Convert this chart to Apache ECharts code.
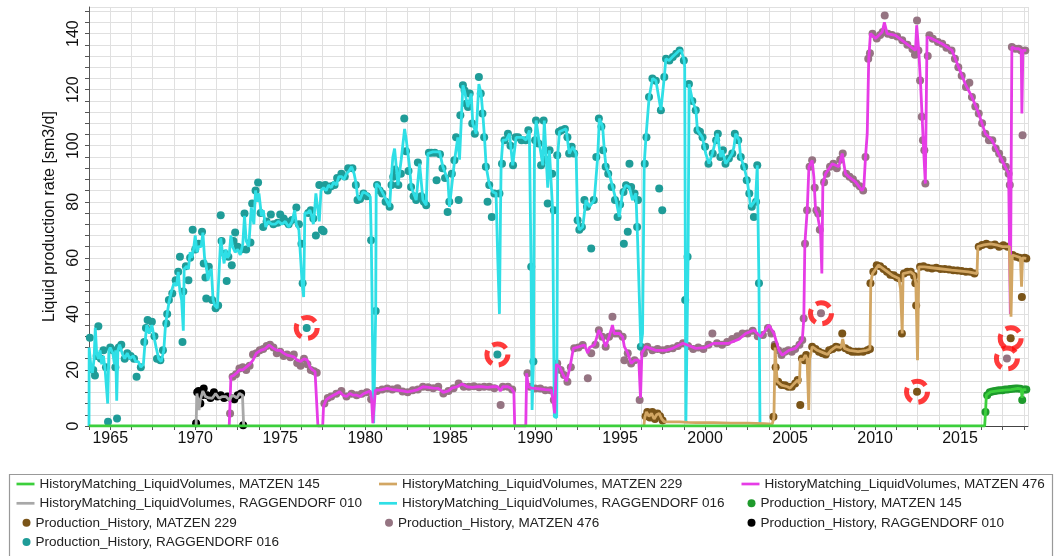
<!DOCTYPE html>
<html>
<head>
<meta charset="utf-8">
<script src="https://cdn.jsdelivr.net/npm/echarts@6/dist/echarts.min.js"></script>
<style>
html,body{margin:0;padding:0;background:#fff;}
#chart{width:1055px;height:556px;}
</style>
</head>
<body>
<div id="chart"></div>
<script>
// ---------- DATA ----------
const xLabelYears = [1965, 1970, 1975, 1980, 1985, 1990, 1995, 2000, 2005, 2010, 2015];
const yLabelValues = [0, 20, 40, 60, 80, 100, 120, 140];

const names = {
  hm145: 'HistoryMatching_LiquidVolumes, MATZEN 145',
  hm229: 'HistoryMatching_LiquidVolumes, MATZEN 229',
  hm476: 'HistoryMatching_LiquidVolumes, MATZEN 476',
  hm010: 'HistoryMatching_LiquidVolumes, RAGGENDORF 010',
  hm016: 'HistoryMatching_LiquidVolumes, RAGGENDORF 016',
  ph145: 'Production_History, MATZEN 145',
  ph229: 'Production_History, MATZEN 229',
  ph476: 'Production_History, MATZEN 476',
  ph010: 'Production_History, RAGGENDORF 010',
  ph016: 'Production_History, RAGGENDORF 016'
};

// HistoryMatching_LiquidVolumes, RAGGENDORF 016  [year, sm3/d]
const hmRagg016 = [
[1963.75,0],[1963.76,28],[1963.85,22],[1963.95,19],[1964.05,24],[1964.12,35],[1964.2,26],[1964.3,24],[1964.4,27],[1964.5,22],[1964.6,25],[1964.7,20],[1964.8,20],[1964.85,8],[1964.92,27],[1965.0,28],[1965.15,26],[1965.25,22],[1965.32,27],[1965.38,9],[1965.45,27],[1965.55,29],[1965.7,26],[1965.85,24],[1966.0,26],[1966.15,24],[1966.35,25],[1966.5,23],[1966.65,23],[1966.8,21],[1966.95,22],[1967.05,30],[1967.15,36],[1967.3,33],[1967.45,36],[1967.6,31],[1967.7,28],[1967.85,24],[1968.0,23],[1968.15,27],[1968.25,36],[1968.35,40],[1968.45,44],[1968.6,48],[1968.75,51],[1968.9,50],[1969.0,55],[1969.1,48],[1969.2,45],[1969.3,34],[1969.35,56],[1969.5,57],[1969.6,56],[1969.7,62],[1969.8,60],[1969.9,63],[1970.0,68],[1970.1,62],[1970.2,64],[1970.35,64],[1970.45,69],[1970.55,60],[1970.65,57],[1970.75,52],[1970.85,55],[1970.95,56],[1971.05,45],[1971.15,43],[1971.3,42],[1971.4,42],[1971.5,67],[1971.6,62],[1971.7,58],[1971.8,63],[1971.9,60],[1972.0,61],[1972.1,68],[1972.2,64],[1972.35,62],[1972.5,63],[1972.65,61],[1972.8,65],[1972.9,75],[1973.0,66],[1973.15,64],[1973.3,78],[1973.45,72],[1973.55,84],[1973.65,80],[1973.75,83],[1973.9,75],[1974.0,77],[1974.15,71],[1974.3,73],[1974.5,72],[1974.7,72],[1974.9,73],[1975.1,72],[1975.3,73],[1975.5,71],[1975.7,73],[1975.85,77],[1975.95,72],[1976.1,70],[1976.2,70],[1976.3,50],[1976.38,46],[1976.45,76],[1976.6,76],[1976.75,77],[1976.85,75],[1976.95,72],[1977.0,75],[1977.1,83],[1977.2,78],[1977.3,73],[1977.4,84],[1977.55,85],[1977.7,84],[1977.85,86],[1978.0,85],[1978.15,87],[1978.3,86],[1978.45,89],[1978.6,89],[1978.75,88],[1978.9,90],[1979.05,91],[1979.2,92.5],[1979.35,90],[1979.45,87],[1979.55,82],
[1979.68,80.6],[1979.87,83.5],[1980.07,83],[1980.3,81.8],[1980.36,66],[1980.4,48],[1980.46,12.8],[1980.5,1],[1980.58,1],[1980.62,41],[1980.65,86.5],[1980.85,85.3],[1981.14,81.8],[1981.44,78.2],[1981.54,88.9],[1981.63,96],[1981.73,99],[1981.93,85.9],[1982.12,95],[1982.32,106],[1982.42,102],[1982.61,92.5],[1982.71,85.3],[1983.0,80.6],[1983.2,93.6],[1983.4,80.6],[1983.59,78.8],[1983.69,97.2],[1983.98,97.8],[1984.38,97.8],[1984.57,92.5],[1984.87,87.7],[1984.96,78.2],[1985.26,94.8],[1985.45,103],[1985.55,95],[1985.75,121.6],[1985.84,119.7],[1986.04,113.8],[1986.24,118.6],[1986.33,107.9],[1986.53,104.3],[1986.69,122],[1986.82,118.6],[1986.92,111.5],[1987.02,103],[1987.12,92.5],[1987.31,86],[1987.51,83.5],[1987.7,83],[1987.8,60],[1987.9,40],[1987.96,75],[1988.0,93.6],[1988.1,102],[1988.29,102],[1988.49,104.3],[1988.68,93],[1988.88,103],[1989.27,103],[1989.47,102],[1989.66,105.5],[1989.76,57],[1989.82,5.7],[1989.9,23],[1989.96,99.6],[1990.06,109],[1990.25,100.8],[1990.45,93],[1990.54,109],[1990.74,85],[1990.84,98.4],[1991.03,77],[1991.13,3.3],[1991.27,3],[1991.33,96.6],[1991.43,105],[1991.62,105.5],[1991.82,106],[1992.01,97.2],[1992.21,99.6],[1992.41,97.2],[1992.5,73.4],[1992.6,70],[1992.8,71],[1992.99,80.6],[1993.19,78.2],[1993.48,80.6],[1993.68,96],[1993.78,109.7],[1993.97,106.9],[1994.07,98.4],[1994.17,92.5],[1994.36,90],[1994.56,85.3],[1994.76,80.6],[1994.95,74.6],[1995.15,83.5],[1995.34,85.9],[1995.54,85.3],[1995.73,80.6],[1995.93,83],[1996.03,66.3],[1996.13,46],[1996.22,28.3],[1996.32,33],[1996.42,93.6],[1996.52,103],[1996.71,117.4],[1996.91,124],[1997.11,123.2],[1997.4,112.7],[1997.6,124.5],[1997.69,131],[1997.89,130.4],[1998.08,131.7],[1998.28,132.8],[1998.48,134],[1998.6,134],[1998.77,130.4],[1998.8,128],[1998.87,1],[1998.95,1],[1999.0,60],[1999.06,122],[1999.26,116],[1999.46,112.7],[1999.55,105.5],[1999.84,103],[2000.04,97.2],[2000.23,93.6],[2000.43,97.2],[2000.62,102],[2000.72,104.3],[2000.92,96],[2001.02,98.4],[2001.21,93.6],[2001.41,95.4],[2001.6,97.2],[2001.7,99.6],[2001.8,104.3],[2002.0,102],[2002.09,96],[2002.29,92.5],[2002.48,87.7],[2002.58,83],[2002.68,78.2],[2002.97,80.6],[2003.07,93],[2003.17,50.9],[2003.23,0]
];

// Production_History, RAGGENDORF 016
const phRagg016 = [
[1963.8,31.5],[1964.0,20],[1964.1,18],[1964.2,25],[1964.3,35.6],[1964.45,24],[1964.6,27],[1964.75,21],[1964.87,1.5],[1965.0,28],[1965.15,27],[1965.3,21],[1965.4,2.7],[1965.5,28],[1965.65,29],[1965.85,24],[1966.0,26],[1966.2,25],[1966.4,24],[1966.55,17.6],[1966.8,21],[1967.0,30],[1967.1,35],[1967.2,37.8],[1967.45,37.2],[1967.6,32],[1967.75,24],[1967.95,23.5],[1968.1,27],[1968.3,36.6],[1968.35,40],[1968.45,45],[1968.65,47.3],[1968.85,52],[1969.0,55],[1969.1,60.4],[1969.25,30],[1969.3,48],[1969.45,57],[1969.6,52],[1969.7,60],[1969.85,70],[1970.0,63],[1970.2,65],[1970.4,69.3],[1970.5,58],[1970.6,53],[1970.65,45.5],[1970.8,56.8],[1971.0,45],[1971.2,42],[1971.35,43],[1971.5,75.2],[1971.55,66],[1971.75,61.5],[1971.85,51.7],[1971.95,60.4],[1972.15,57.4],[1972.25,66],[1972.35,69],[1972.5,64],[1972.7,63],[1972.9,75.8],[1973.0,63],[1973.25,65.5],[1973.35,79.4],[1973.55,84],[1973.7,86.9],[1973.85,76],[1974.0,71],[1974.2,73],[1974.45,75.5],[1974.6,72],[1974.85,72.5],[1975.0,75.5],[1975.2,74],[1975.35,73],[1975.5,72],[1975.7,73.5],[1975.95,78],[1976.1,72],[1976.25,65],[1976.32,50.9],[1976.56,35],[1976.65,76],[1976.8,77],[1976.95,74],[1977.1,68],[1977.3,86],[1977.45,70],[1977.55,69.5],[1977.65,86],[1977.8,84],[1978.0,85.5],[1978.2,86],[1978.35,88.5],[1978.6,90],[1978.8,89],[1979.0,92],[1979.25,92],[1979.45,86],[1979.55,80.6],[1979.7,81],[1979.9,83],[1980.1,82],[1980.35,66.3],[1980.62,41],[1980.7,86],[1980.85,84],[1981.0,83],[1981.2,80],[1981.44,78.2],[1981.55,86],[1981.65,88.9],[1981.75,91.5],[1981.95,86],[1982.1,90],[1982.3,109.7],[1982.4,98],[1982.55,91],[1982.7,85.3],[1982.85,82],[1983.0,80.6],[1983.1,94],[1983.3,82],[1983.45,80],[1983.59,78.8],[1983.75,97.5],[1983.9,97.5],[1984.1,97.5],[1984.2,87.7],[1984.4,97],[1984.55,92],[1984.7,88.5],[1984.85,76.4],[1984.95,80],[1985.1,90],[1985.25,94.8],[1985.35,103],[1985.5,80.6],[1985.6,110.9],[1985.75,121.6],[1985.85,119.7],[1985.95,115],[1986.05,113.8],[1986.15,118.6],[1986.3,107.9],[1986.45,104.3],[1986.69,124.5],[1986.8,118.6],[1986.9,111.5],[1987.0,103],[1987.1,92.5],[1987.2,80],[1987.3,86],[1987.45,74.6],[1987.6,83],[1987.78,25.5],[1987.9,83],[1988.05,93.6],[1988.2,102],[1988.4,104.3],[1988.55,100],[1988.7,93],[1988.85,103],[1989.0,103],[1989.2,102],[1989.45,102],[1989.6,105.5],[1989.77,56.8],[1989.9,23],[1990.0,102],[1990.05,109],[1990.2,100.8],[1990.35,93],[1990.5,109],[1990.6,95],[1990.74,79.4],[1990.85,98.4],[1991.0,90],[1991.1,77],[1991.3,96.6],[1991.4,105],[1991.55,105.5],[1991.75,106],[1991.9,103],[1992.0,97.2],[1992.15,99.6],[1992.3,97.2],[1992.5,73.4],[1992.6,70],[1992.75,71],[1992.9,80.6],[1993.05,78.2],[1993.3,63.3],[1993.45,80.6],[1993.6,96],[1993.75,109.7],[1993.9,106.9],[1994.0,98.4],[1994.15,92.5],[1994.3,90],[1994.5,85.3],[1994.7,80.6],[1994.85,74.6],[1995.0,79],[1995.2,83.5],[1995.22,65],[1995.35,85.9],[1995.45,69.3],[1995.55,93.6],[1995.65,85.3],[1995.85,83],[1996.0,71],[1996.05,80.6],[1996.22,28.3],[1996.45,93.6],[1996.55,103],[1996.7,117.4],[1996.9,124],[1997.1,123.2],[1997.3,84.7],[1997.4,112.7],[1997.48,77],[1997.6,124.5],[1997.7,131],[1997.9,130.4],[1998.1,131.7],[1998.3,132.8],[1998.5,134],[1998.75,130.4],[1998.83,45],[1998.97,60.4],[1999.05,122],[1999.25,116],[1999.45,112.7],[1999.55,105.5],[1999.7,105],[1999.85,103],[2000.0,99.6],[2000.2,93.6],[2000.45,97.2],[2000.65,102],[2000.75,104.3],[2000.9,96],[2001.05,98.4],[2001.2,93.6],[2001.4,95.4],[2001.6,97.2],[2001.75,104.3],[2001.95,102],[2002.1,96],[2002.3,92.5],[2002.45,87.7],[2002.6,83],[2002.75,78.2],[2002.87,74.6],[2003.0,80],[2003.07,93],[2003.17,50.9]
];

// HistoryMatching_LiquidVolumes, MATZEN 476
const hmMatzen476 = [
[1972.0,0],[1972.03,5],[1972.1,17.6],[1972.25,18],[1972.45,19],[1972.6,20],[1972.8,20],[1973.0,21],[1973.2,22],[1973.4,23.5],[1973.6,26],[1973.85,27],[1974.1,27.5],[1974.35,28.9],[1974.6,27.7],[1974.8,27],[1975.0,27],[1975.2,26],[1975.4,25.3],[1975.6,25],[1975.8,24.7],[1976.0,23.5],[1976.2,23],[1976.4,24],[1976.6,23.5],[1976.75,21],[1976.9,20],[1977.05,19.4],[1977.15,18.8],[1977.22,0],[1977.5,0],[1977.55,7],[1977.7,9.3],[1977.85,10],[1978.0,10.5],[1978.3,11.5],[1978.5,12.2],[1978.7,11],[1978.9,10.5],[1979.1,11.6],[1979.3,11],[1979.5,11],[1979.7,10.5],[1979.9,11.5],[1980.1,12],[1980.3,12.5],[1980.38,9.3],[1980.45,1],[1980.55,1],[1980.6,12.8],[1980.8,12.8],[1981.0,13],[1981.3,13.4],[1981.6,13],[1981.9,12.8],[1982.2,12.5],[1982.5,12.2],[1982.8,12.5],[1983.1,13],[1983.4,14],[1983.7,13.8],[1984.0,13.5],[1984.3,13.4],[1984.6,12],[1984.9,12.5],[1985.1,13.5],[1985.4,14],[1985.7,15],[1986.0,14],[1986.3,13.8],[1986.6,14],[1986.9,14],[1987.2,13.8],[1987.5,14],[1987.8,14],[1987.95,12.5],[1988.1,14],[1988.4,14],[1988.6,13.4],[1988.75,12],[1988.8,0],[1989.45,0],[1989.5,18.8],[1989.6,14],[1989.8,13.5],[1990.0,13.4],[1990.3,13.2],[1990.6,13],[1990.95,12.8],[1991.05,9.3],[1991.15,4.5],[1991.25,22],[1991.45,21],[1991.65,18.2],[1991.85,16],[1992.05,21],[1992.25,27.7],[1992.6,28.3],[1992.9,28.9],[1993.1,26],[1993.2,28],[1993.5,29],[1993.75,34.2],[1993.95,31.8],[1994.15,28.3],[1994.35,31.8],[1994.55,36],[1994.65,33],[1994.95,33],[1995.15,31.8],[1995.25,28.3],[1995.45,26],[1995.65,22.3],[1995.85,23.5],[1996.1,23.5],[1996.2,10],[1996.28,26],[1996.5,28.3],[1997.1,27],[1997.7,27],[1998.1,27.7],[1998.7,29.5],[1999.45,27.7],[2000.0,28],[2000.5,29.5],[2001.4,29.5],[2002.0,31],[2002.39,33],[2002.88,34.2],[2003.27,31.8],[2003.76,36],[2004.05,33],[2004.35,27],[2004.54,25.3],[2004.93,27],[2005.32,27.7],[2005.72,30.7],[2005.81,38.4],[2005.87,65],[2006.01,77],[2006.11,92.5],[2006.3,94.8],[2006.4,88.9],[2006.5,77],[2006.6,75.8],[2006.7,72.3],[2006.79,70],[2006.87,54.4],[2006.93,86.5],[2007.09,90],[2007.48,93.6],[2007.87,92.5],[2008.07,97.2],[2008.26,90],[2008.46,88.9],[2008.85,87.1],[2009.24,84],[2009.34,85.3],[2009.44,96],[2009.54,104.3],[2009.63,131],[2009.73,140],[2010.03,138.3],[2010.42,140.6],[2010.55,144],[2010.71,140],[2011.2,139.4],[2011.59,137.6],[2011.98,135.8],[2012.38,134],[2012.45,143],[2012.57,134],[2012.67,123.3],[2012.77,110.3],[2012.86,98.4],[2012.96,86.5],[2013.06,138.8],[2013.16,139.4],[2013.35,138.2],[2013.94,136.4],[2014.53,134],[2014.92,128],[2015.31,122],[2015.7,117.4],[2016.1,111.5],[2016.49,104.3],[2016.88,102],[2017.27,97.2],[2017.66,92.5],[2017.86,90],[2017.96,40],[2018.05,135.2],[2018.25,134.6],[2018.45,134.6],[2018.6,134],[2018.64,111.5],[2018.7,134],[2018.9,134]
];

// Production_History, MATZEN 476
const phMatzen476 = [
[1972.05,4.5],[1972.2,17.6],[1972.4,18.5],[1972.6,20.5],[1972.8,21],[1973.0,20],[1973.2,21.5],[1973.4,25.5],[1973.6,26],[1973.8,27],[1974.0,27.5],[1974.2,28.5],[1974.4,29],[1974.6,28],[1974.8,26],[1975.0,26.5],[1975.2,25],[1975.4,25.5],[1975.6,24.5],[1975.8,25.5],[1976.0,22.5],[1976.2,21.5],[1976.4,24],[1976.6,22],[1976.8,20],[1977.0,19.5],[1977.15,19],[1977.6,8],[1977.8,10],[1978.0,10.5],[1978.3,11.5],[1978.6,12.5],[1978.9,10.5],[1979.2,11.5],[1979.5,11],[1979.8,11.5],[1980.1,12],[1980.35,9.5],[1980.7,12.5],[1981.0,13],[1981.3,13.4],[1981.6,13],[1981.9,13.5],[1982.2,12.3],[1982.5,12],[1982.8,12.8],[1983.1,13],[1983.4,14],[1983.7,13.8],[1984.0,13.5],[1984.3,14],[1984.6,11.6],[1984.9,12.5],[1985.2,13.5],[1985.5,15.2],[1985.8,14],[1986.1,14],[1986.4,14.2],[1986.7,13.8],[1987.0,14],[1987.3,14],[1987.6,13.5],[1987.97,7.5],[1988.1,14],[1988.4,14],[1988.65,13],[1989.55,18.8],[1989.7,14],[1990.0,13.4],[1990.3,13.4],[1990.6,12.8],[1990.9,12.8],[1991.1,9.3],[1991.3,22.3],[1991.5,20],[1991.7,18.2],[1991.9,15.8],[1992.1,21],[1992.3,27.7],[1992.55,28],[1992.8,28.9],[1993.1,17],[1993.3,26],[1993.55,29],[1993.75,34.2],[1993.95,31.8],[1994.15,28.3],[1994.35,31.8],[1994.55,39],[1994.7,33],[1994.9,33],[1995.15,31.8],[1995.25,23.5],[1995.45,26],[1995.65,22.3],[1995.85,23.5],[1996.15,9.3],[1996.4,26],[1996.6,28.3],[1996.9,27],[1997.2,27.5],[1997.5,27],[1997.8,27.5],[1998.1,27.7],[1998.4,28.5],[1998.7,29.5],[1999.0,28.5],[1999.3,27.5],[1999.6,28],[1999.9,27.5],[2000.2,29],[2000.43,33],[2000.7,29.5],[2001.0,29],[2001.3,30],[2001.6,31],[2001.9,32],[2002.2,33],[2002.5,33],[2002.8,34],[2003.1,32],[2003.4,32.5],[2003.7,35],[2003.9,33],[2004.1,29],[2004.3,27],[2004.5,25.3],[2004.7,26.5],[2004.9,27],[2005.1,26.5],[2005.3,27.5],[2005.55,29],[2005.72,30.7],[2005.8,38.4],[2005.88,65],[2006.0,77],[2006.15,92.5],[2006.3,94.8],[2006.45,85],[2006.55,77],[2006.65,75.8],[2006.75,70],[2006.82,40.2],[2007.0,87],[2007.15,90],[2007.35,92.5],[2007.55,93.6],[2007.75,92],[2007.95,95],[2008.1,97.2],[2008.3,90],[2008.5,88.9],[2008.7,88],[2008.9,86.5],[2009.1,85.5],[2009.3,84],[2009.44,96],[2009.6,131],[2009.7,133],[2009.85,140],[2010.1,138.3],[2010.3,139.5],[2010.45,140.6],[2010.57,146.5],[2010.75,140],[2011.0,139.5],[2011.3,139],[2011.6,137.6],[2011.9,136],[2012.2,134.5],[2012.35,132.5],[2012.47,144.7],[2012.55,134],[2012.65,123.3],[2012.75,110.3],[2012.82,102],[2012.9,98.4],[2012.96,86.5],[2013.1,132],[2013.2,139.4],[2013.4,138.2],[2013.7,137],[2013.95,136.4],[2014.2,135],[2014.5,134],[2014.7,131],[2014.9,128],[2015.1,125],[2015.35,121],[2015.55,122.5],[2015.7,117.4],[2015.9,114],[2016.1,111.5],[2016.3,108],[2016.49,104.3],[2016.7,102],[2016.9,102],[2017.1,99],[2017.3,97.2],[2017.5,95],[2017.7,92.5],[2017.86,90],[2017.93,86],[2017.76,24.1],[2018.05,135.2],[2018.25,134.6],[2018.45,134.6],[2018.6,134],[2018.68,103.7],[2018.84,134]
];

// HistoryMatching_LiquidVolumes, MATZEN 229
const hmMatzen229 = [
[1996.4,0],[1996.45,3],[1996.55,5],[1996.7,3.5],[1996.85,4.5],[1997.0,2.5],[1997.15,4],[1997.3,4.5],[1997.45,2.5],[1997.6,1.5],[1998.0,1.5],[1998.5,1.5],[1999.0,1.3],[1999.5,1.2],[2000.5,1.2],[2001.5,1],[2002.5,1],[2003.5,0.8],[2003.95,0.7],[2004.0,0],[2004.05,3],[2004.12,28],[2004.18,21],[2004.25,15.8],[2004.5,14.6],[2004.85,14],[2005.0,13.5],[2005.25,15.2],[2005.45,16.4],[2005.55,15],[2005.6,24],[2005.75,23.5],[2005.9,25.3],[2006.0,24],[2006.1,5.7],[2006.15,23.5],[2006.3,28.3],[2006.6,27],[2007.0,26],[2007.2,25.5],[2007.4,27],[2007.7,28.3],[2008.0,28],[2008.1,31],[2008.2,27.7],[2008.5,27],[2009.0,26.5],[2009.5,27],[2009.7,27.5],[2009.75,50.9],[2009.85,54.4],[2010.2,57.4],[2010.6,55.6],[2011.0,53.8],[2011.4,52.6],[2011.5,49],[2011.6,33],[2011.65,54.4],[2012.1,55],[2012.3,54],[2012.4,50.9],[2012.5,23.5],[2012.58,56.8],[2012.9,56.8],[2013.7,56.2],[2014.5,55.6],[2015.5,55],[2016.0,54.4],[2016.05,64],[2016.4,64.6],[2016.8,65],[2017.2,64.5],[2017.5,64],[2017.9,64],[2018.0,39],[2018.08,61],[2018.4,60.4],[2018.55,60],[2018.62,49.7],[2018.68,60],[2018.9,59.8]
];

// Production_History, MATZEN 229
const phMatzen229 = [
[1996.5,3.5],[1996.6,5],[1996.75,3],[1996.9,5],[1997.05,2.5],[1997.2,4.5],[1997.35,3.5],[1997.5,2],[2004.02,3.3],[2004.1,28.3],[2004.15,21],[2004.3,15.8],[2004.5,14.6],[2004.7,14.5],[2004.9,14],[2005.1,14],[2005.3,15.2],[2005.45,16.4],[2005.6,7.5],[2005.7,24.1],[2005.85,23.5],[2005.95,25.3],[2006.3,28.3],[2006.5,27.5],[2006.7,26.5],[2006.9,26],[2007.1,25.5],[2007.3,27],[2007.5,27.5],[2007.7,28.3],[2007.85,28],[2008.07,33],[2008.25,27.7],[2008.45,27],[2008.65,26.5],[2008.85,26.5],[2009.05,26.5],[2009.3,26.5],[2009.55,27],[2009.7,27.5],[2009.73,50.9],[2009.9,55],[2010.1,57.4],[2010.3,57],[2010.5,56],[2010.7,55],[2010.9,54],[2011.1,53.8],[2011.3,53],[2011.45,52.6],[2011.58,33],[2011.7,54.4],[2011.9,55],[2012.1,55],[2012.3,53.5],[2012.37,50.9],[2012.42,43],[2012.47,12.2],[2012.65,56.8],[2012.85,57],[2013.1,56.5],[2013.35,56.2],[2013.6,56.5],[2013.85,56],[2014.1,56],[2014.35,55.8],[2014.6,55.6],[2014.85,55.5],[2015.1,55.3],[2015.35,55],[2015.6,55],[2015.85,54.4],[2016.1,64],[2016.3,64.6],[2016.55,65],[2016.8,64.5],[2017.05,64.8],[2017.3,64],[2017.55,64.5],[2017.8,64],[2017.98,31.3],[2018.1,61],[2018.3,60.4],[2018.5,60],[2018.64,46],[2018.8,60],[2018.9,59.8]
];

// HistoryMatching_LiquidVolumes, MATZEN 145
const hmMatzen145 = [
[1963.75,0],[2016.45,0],[2016.5,5],[2016.55,11],[2016.8,12.2],[2017.2,12.5],[2017.6,12.8],[2018.0,13],[2018.4,13.4],[2018.6,13.2],[2018.65,10],[2018.7,13],[2018.9,13]
];
// Production_History, MATZEN 145
const phMatzen145 = [
[2016.5,5],[2016.6,11],[2016.75,12],[2016.9,12.3],[2017.05,12.5],[2017.2,12.7],[2017.35,12.8],[2017.5,12.8],[2017.65,13],[2017.8,13],[2017.95,13.2],[2018.1,13.3],[2018.25,13.4],[2018.4,13.4],[2018.55,13.3],[2018.66,9.3],[2018.8,13],[2018.9,13]
];

// HistoryMatching_LiquidVolumes, RAGGENDORF 010
const hmRagg010 = [
[1970.05,0],[1970.1,11.6],[1970.15,12],[1970.22,5.7],[1970.3,9.3],[1970.45,12.5],[1970.6,10.5],[1970.8,10],[1971.0,9.9],[1971.2,11.6],[1971.4,9.9],[1971.6,10.5],[1971.8,10.5],[1972.0,9.3],[1972.2,11],[1972.45,10],[1972.6,11.6],[1972.78,11],[1972.85,0]
];
// Production_History, RAGGENDORF 010
const phRagg010 = [
[1970.05,1],[1970.12,12],[1970.2,12.5],[1970.3,8],[1970.4,11],[1970.5,13.4],[1970.7,11],[1970.9,10],[1971.1,12],[1971.3,10.5],[1971.5,11],[1971.7,10],[1971.9,10.5],[1972.1,10],[1972.3,9.5],[1972.5,11],[1972.7,11.6],[1972.82,0.3]
];

// Highlighted (circled) production points
const circledPoints = [
[1976.56,35],[1987.78,25.5],[2006.82,40.2],[2012.47,12.2],[2017.98,31.3],[2017.76,24.1]
];

// ---------- CHART ----------
const FONT = '"Liberation Sans", Arial, sans-serif';
const chart = echarts.init(document.getElementById('chart'), null, {renderer: 'canvas'});

function lineSeries(name, data, color) {
  return {name, type: 'line', data, symbol: 'none', showSymbol: false, z: 3,
    lineStyle: {color, width: 2.8}, itemStyle: {color}, animation: false, silent: true};
}
function pointSeries(name, data, color) {
  return {name, type: 'scatter', data, symbol: 'circle', symbolSize: 8, z: 2,
    itemStyle: {color, opacity: 1}, animation: false, silent: true};
}

// legend layout: [series key, column, row, kind]
const legendCells = [
  ['hm145', 0, 0, 'line'], ['hm229', 1, 0, 'line'], ['hm476', 2, 0, 'line'],
  ['hm010', 0, 1, 'line'], ['hm016', 1, 1, 'line'], ['ph145', 2, 1, 'dot'],
  ['ph229', 0, 2, 'dot'],  ['ph476', 1, 2, 'dot'],  ['ph010', 2, 2, 'dot'],
  ['ph016', 0, 3, 'dot']
];
const colX = [0, 362.5, 725];
const rowY = [484, 503.3, 522.8, 542];
const LINE_ICON = 'path://M0,0L20,0L20,3L0,3Z';
const legends = legendCells.map(([key, c, r, kind]) => ({
  orient: 'horizontal', padding: 0, selectedMode: false,
  left: colX[c] + (kind === 'line' ? 16.5 : 22.5),
  top: rowY[r] - 7,
  itemWidth: kind === 'line' ? 18 : 8,
  itemHeight: kind === 'line' ? 9 : 8,
  textStyle: {fontFamily: FONT, fontSize: 13.5, color: '#222', lineHeight: 14},
  data: [kind === 'line' ? {name: names[key], icon: LINE_ICON} : {name: names[key], icon: 'circle'}]
}));

chart.setOption({
  animation: false,
  backgroundColor: '#fff',
  grid: {left: 89, right: 27, top: 7, bottom: 130, containLabel: false},
  xAxis: {
    type: 'value', min: 1963.75, max: 2019, interval: 1.25,
    axisLine: {show: true, lineStyle: {color: '#444', width: 1}},
    axisTick: {show: true, length: 4, lineStyle: {color: '#555'}},
    splitLine: {show: true, lineStyle: {color: '#e0e0e0', width: 1}},
    axisLabel: {
      margin: 5, fontFamily: FONT, fontSize: 16, color: '#111', showMaxLabel: false,
      formatter: v => (xLabelYears.some(y => Math.abs(y - v) < 1e-6) ? String(Math.round(v)) : '')
    }
  },
  yAxis: {
    type: 'value', min: 0, max: 149.5, interval: 4,
    name: 'Liquid production rate [sm3/d]', nameLocation: 'middle', nameGap: 31,
    nameTextStyle: {fontFamily: FONT, fontSize: 16, color: '#111'},
    axisLine: {show: true, lineStyle: {color: '#555', width: 1}},
    axisTick: {show: true, length: 4, lineStyle: {color: '#555'}},
    splitLine: {show: true, lineStyle: {color: '#e0e0e0', width: 1}},
    axisLabel: {
      rotate: 90, margin: 7, fontFamily: FONT, fontSize: 16, color: '#111', showMaxLabel: false,
      formatter: v => (yLabelValues.some(y => Math.abs(y - v) < 1e-6) ? String(Math.round(v)) : '')
    }
  },
  legend: legends,
  graphic: [{
    type: 'rect', silent: true, z: -1,
    shape: {x: 9.5, y: 474.5, width: 1043, height: 100},
    style: {fill: '#fff', stroke: '#999', lineWidth: 1.2}
  }],
  series: [
    pointSeries(names.ph016, phRagg016, '#1f9c98'),
    pointSeries(names.ph476, phMatzen476, '#957482'),
    pointSeries(names.ph229, phMatzen229, '#7a5418'),
    pointSeries(names.ph010, phRagg010, '#000000'),
    pointSeries(names.ph145, phMatzen145, '#1e9a2c'),
    lineSeries(names.hm016, hmRagg016, '#2fdfe6'),
    lineSeries(names.hm476, hmMatzen476, '#e63ce6'),
    lineSeries(names.hm229, hmMatzen229, '#d2a663'),
    lineSeries(names.hm010, hmRagg010, '#a8a8a8'),
    lineSeries(names.hm145, hmMatzen145, '#3ccf3c'),
    {
      name: 'circled', type: 'scatter', data: circledPoints, symbol: 'circle', symbolSize: 21, z: 5,
      itemStyle: {color: 'rgba(0,0,0,0)', borderColor: '#ff0a0a', borderWidth: 5, borderType: [15, 7]},
      animation: false, silent: true
    }
  ]
});
</script>
</body>
</html>
